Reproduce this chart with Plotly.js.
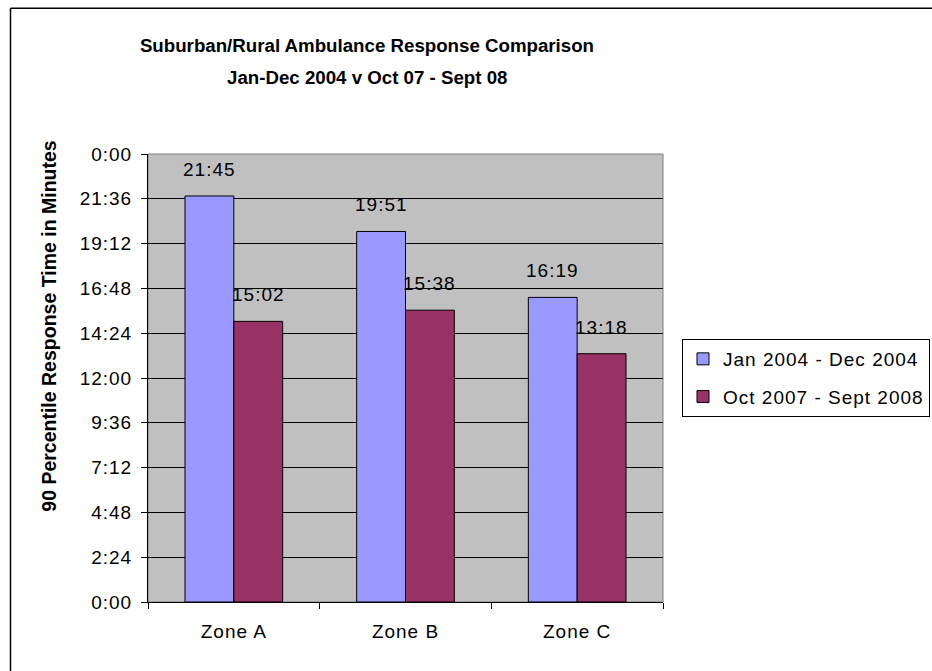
<!DOCTYPE html>
<html>
<head>
<meta charset="utf-8">
<script src="https://cdn.plot.ly/plotly-3.0.1.min.js"></script>
<style>
  html, body { margin: 0; padding: 0; background: #fff; }
  #chart { width: 932px; height: 671px; }
  svg text { letter-spacing: 1px; }
  svg text[style*="bold"], svg text[style*="700"] { letter-spacing: 0; }
</style>
</head>
<body>
<div id="chart"></div>
<script>
// ---- data (response times in seconds) ----
const categories = ['Zone A', 'Zone B', 'Zone C'];
const seriesNames = ['Jan 2004 - Dec 2004', 'Oct 2007 - Sept 2008'];
const jan2004Dec2004 = [1305, 1191, 979];   // 21:45, 19:51, 16:19
const oct2007Sept2008 = [902, 938, 798];    // 15:02, 15:38, 13:18
const yTickVals = [0, 144, 288, 432, 576, 720, 864, 1008, 1152, 1296, 1440];
const yTickText = ['0:00', '2:24', '4:48', '7:12', '9:36', '12:00', '14:24', '16:48', '19:12', '21:36', '0:00'];
const titleLines = ['Suburban/Rural Ambulance Response Comparison', 'Jan-Dec 2004 v Oct 07 - Sept 08'];
const yTitle = '90 Percentile Response Time in Minutes';

function mmss(s) {
  const m = Math.floor(s / 60), r = Math.round(s - m * 60);
  return m + ':' + (r < 10 ? '0' : '') + r;
}

const FONT = 'Arial, "Liberation Sans", sans-serif';
const blue = '#9999FF', plum = '#993366';

const traces = [
  { type: 'bar', name: seriesNames[0], x: categories, y: jan2004Dec2004, legendgroup: 'a',
    marker: { color: blue, line: { color: '#000', width: 1 } }, hoverinfo: 'skip' },
  { type: 'bar', name: seriesNames[1], x: categories, y: oct2007Sept2008, legendgroup: 'b',
    marker: { color: plum, line: { color: '#000', width: 1 } }, hoverinfo: 'skip' }
];

// data labels
const annotations = [];
const halfBar = 24.4;
[[jan2004Dec2004, -halfBar], [oct2007Sept2008, halfBar]].forEach(([vals, dx]) => {
  vals.forEach((v, i) => {
    annotations.push({
      x: categories[i], y: v, xref: 'x', yref: 'y', xshift: dx, yshift: 14,
      xanchor: 'center', yanchor: 'bottom', showarrow: false, text: mmss(v),
      font: { family: FONT, size: 19, color: '#000' }
    });
  });
});
// second title line
annotations.push({
  xref: 'paper', yref: 'paper', x: 0.4252, y: (602.3 - 78) / 448, xanchor: 'center', yanchor: 'middle',
  showarrow: false, text: titleLines[1],
  font: { family: FONT, size: 18.7, color: '#000', weight: 'bold' }
});
// y-axis title
annotations.push({
  xref: 'paper', yref: 'paper', x: (49 - 148) / 515, y: (602.3 - 326) / 448, textangle: -90,
  xanchor: 'center', yanchor: 'middle',
  showarrow: false, text: yTitle,
  font: { family: FONT, size: 19.5, color: '#000', weight: 'bold' }
});

const layout = {
  width: 932, height: 671,
  margin: { l: 148, r: 269, t: 154, b: 69, pad: 0, autoexpand: false },
  paper_bgcolor: '#fff', plot_bgcolor: '#C0C0C0',
  font: { family: FONT, size: 19, color: '#000' },
  title: {
    text: titleLines[0],
    xref: 'paper', x: 0.4252, xanchor: 'center',
    yref: 'container', y: 1 - 45 / 671, yanchor: 'middle',
    font: { family: FONT, size: 18.7, weight: 'bold', color: '#000' }
  },
  barmode: 'group', bargap: 0.431, bargroupgap: 0,
  xaxis: {
    type: 'category', showline: true, linecolor: '#000', linewidth: 1,
    ticks: 'outside', tickson: 'boundaries', ticklen: 6, tickcolor: '#000',
    ticklabelstandoff: 12,
    showgrid: false, tickfont: { family: FONT, size: 19 }, fixedrange: true
  },
  yaxis: {
    range: [0, 1440], tickmode: 'array', tickvals: yTickVals, ticktext: yTickText,
    showline: true, linecolor: '#000', linewidth: 1,
    ticks: 'outside', ticklen: 6, tickcolor: '#000', ticklabelstandoff: 5,
    showgrid: true, gridcolor: '#000', gridwidth: 1, zeroline: false,
    tickfont: { family: FONT, size: 19 }, fixedrange: true
  },
  legend: {
    x: (682 - 148) / 515, xanchor: 'left', y: 0.5, yanchor: 'middle',
    bgcolor: '#fff', bordercolor: '#000', borderwidth: 1,
    font: { family: FONT, size: 19, color: '#000' },
    traceorder: 'grouped', tracegroupgap: 10
  },
  shapes: [
    { type: 'rect', xref: 'paper', yref: 'paper', x0: 0, x1: 1, y0: 0, y1: 1,
      line: { color: '#808080', width: 1 }, layer: 'below' },
    { type: 'line', xref: 'paper', yref: 'paper', x0: -0.267, x1: -0.267, y0: 1.3254, y1: -0.3,
      line: { color: '#000', width: 1.5 } },
    { type: 'line', xref: 'paper', yref: 'paper', x0: -0.267, x1: 1.7, y0: 1.3254, y1: 1.3254,
      line: { color: '#000', width: 1.5 } }
  ],
  annotations: annotations,
  showlegend: true
};

Plotly.newPlot('chart', traces, layout, { displayModeBar: false, staticPlot: true });
</script>
</body>
</html>
